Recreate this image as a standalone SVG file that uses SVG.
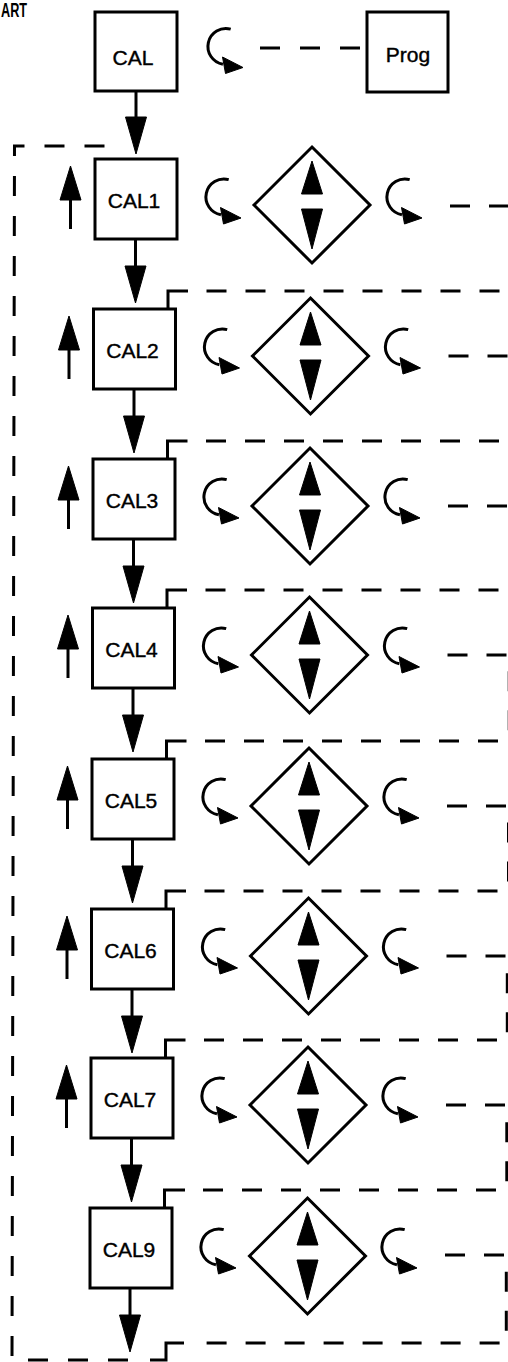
<svg xmlns="http://www.w3.org/2000/svg" xmlns:xlink="http://www.w3.org/1999/xlink" width="508" height="1362" viewBox="0 0 508 1362">
<style>
.box{fill:#fff;stroke:#000;stroke-width:3}
.lbl{font-family:"Liberation Sans",Arial,Helvetica,sans-serif;font-size:21px;fill:#000;stroke:#000;stroke-width:0.4;text-anchor:middle}
.ln{fill:none;stroke:#000;stroke-width:3}
.dash{fill:none;stroke:#000;stroke-width:3;stroke-dasharray:20 19}
.head{fill:#000;stroke:#000;stroke-width:1;stroke-linejoin:round}
</style>
<defs>
<g id="curl">
<path class="ln" d="M 4.7 -17.4 A 18 18 0 1 0 -3.1 17.7"/>
<polygon class="head" points="-3.5,10.5 17,21 -0.5,27"/>
</g>
<g id="diamond">
<polygon points="0,-58 58,0 0,58 -58,0" fill="#fff" stroke="#000" stroke-width="3" stroke-linejoin="miter"/>
<polygon class="head" points="0,-44 10.5,-11 -10.5,-11"/>
<polygon class="head" points="-10.5,4 10.5,4 0,44"/>
</g>
<g id="up">
<line class="ln" x1="0" y1="63" x2="0" y2="30"/>
<polygon class="head" points="0,0 10.5,34 -10.5,34"/>
</g>
<g id="down">
<line class="ln" x1="0" y1="0" x2="0" y2="28"/>
<polygon class="head" points="-10.5,27 10.5,27 0,64"/>
</g>
</defs>
<rect x="0" y="0" width="508" height="1362" fill="#fff"/>
<text x="1" y="17" font-family="Liberation Sans,Arial,sans-serif" font-weight="bold" font-size="20" textLength="26" lengthAdjust="spacingAndGlyphs">ART</text>

<g id="connectors">
<!-- Prog to CAL -->
<path class="dash" d="M 360 48 H 258" style="stroke-dasharray:20 20"/>
<!-- down arrows -->
<use xlink:href="#down" href="#down" transform="translate(136,90)"/>
<use xlink:href="#down" href="#down" transform="translate(135.5,239)"/>
<use xlink:href="#down" href="#down" transform="translate(134,389)"/>
<use xlink:href="#down" href="#down" transform="translate(133.5,539)"/>
<use xlink:href="#down" href="#down" transform="translate(133,688)"/>
<use xlink:href="#down" href="#down" transform="translate(132.5,839)"/>
<use xlink:href="#down" href="#down" transform="translate(132,989)"/>
<use xlink:href="#down" href="#down" transform="translate(131.5,1138)"/>
<use xlink:href="#down" href="#down" transform="translate(130,1288)"/>
<!-- up arrows -->
<use xlink:href="#up" href="#up" transform="translate(70.5,166)"/>
<use xlink:href="#up" href="#up" transform="translate(69,316)"/>
<use xlink:href="#up" href="#up" transform="translate(68.5,466)"/>
<use xlink:href="#up" href="#up" transform="translate(68,615)"/>
<use xlink:href="#up" href="#up" transform="translate(67.5,766)"/>
<use xlink:href="#up" href="#up" transform="translate(67,916)"/>
<use xlink:href="#up" href="#up" transform="translate(66.5,1065)"/>
<!-- row transitions -->
<g id="c1"><path class="dash" d="M 450 206 H 510 V 291"/><path class="dash" d="M 206.5 291 H 510"/><path class="ln" d="M 188 291 H 168 V 309"/></g>
<g id="c2"><path class="dash" d="M 448.5 356 H 510 V 441"/><path class="dash" d="M 206 441 H 510"/><path class="ln" d="M 187.5 441 H 167.5 V 459"/></g>
<g id="c3"><path class="dash" d="M 448 506 H 509.8 V 590"/><path class="dash" d="M 205.5 590 H 509.8"/><path class="ln" d="M 187 590 H 167 V 608"/></g>
<g id="c4"><path class="dash" d="M 447.5 655 H 509.2 V 741"/><path class="dash" d="M 205 741 H 509.2"/><path class="ln" d="M 186.5 741 H 166.5 V 759"/></g>
<g id="c5"><path class="dash" d="M 447 806 H 508.5 V 891"/><path class="dash" d="M 204.5 891 H 508.5"/><path class="ln" d="M 186 891 H 166 V 909"/></g>
<g id="c6"><path class="dash" d="M 446.5 956 H 507.3 V 1040"/><path class="dash" d="M 204 1040 H 507.3"/><path class="ln" d="M 185.5 1040 H 165.5 V 1058"/></g>
<g id="c7"><path class="dash" d="M 446 1105 H 506.8 V 1190"/><path class="dash" d="M 203 1190 H 506.8"/><path class="ln" d="M 185 1190 H 164.5 V 1208"/></g>
<g id="c9"><path class="dash" d="M 445 1255 H 506.3 V 1343 H 203"/><path class="ln" d="M 184 1343 H 166 V 1360 H 150"/><path class="dash" d="M 128 1360 H 12 L 14.5 146 H 118" style="stroke-dasharray:20 20"/></g>
</g>

<g id="nodes">
<g id="cal"><rect class="box" x="95" y="12" width="82" height="79"/><text class="lbl" x="133" y="65">CAL</text></g>
<g id="prog"><rect class="box" x="367" y="12" width="81" height="80"/><text class="lbl" x="408" y="62">Prog</text></g>
<g id="cal-curl"><use xlink:href="#curl" href="#curl" transform="translate(226,46.5)"/></g>

<g id="cal1"><rect class="box" x="95" y="159" width="82" height="80"/><text class="lbl" x="134" y="208">CAL1</text></g>
<g id="adj1"><use xlink:href="#curl" href="#curl" transform="translate(224,197)"/><use xlink:href="#diamond" href="#diamond" transform="translate(312,205)"/><use xlink:href="#curl" href="#curl" transform="translate(405,197)"/></g>

<g id="cal2"><rect class="box" x="93.5" y="309" width="82" height="80"/><text class="lbl" x="132.5" y="358">CAL2</text></g>
<g id="adj2"><use xlink:href="#curl" href="#curl" transform="translate(222.5,347)"/><use xlink:href="#diamond" href="#diamond" transform="translate(310.5,356)"/><use xlink:href="#curl" href="#curl" transform="translate(403.5,347)"/></g>

<g id="cal3"><rect class="box" x="93" y="459" width="82" height="80"/><text class="lbl" x="132" y="508">CAL3</text></g>
<g id="adj3"><use xlink:href="#curl" href="#curl" transform="translate(222,497)"/><use xlink:href="#diamond" href="#diamond" transform="translate(310,506)"/><use xlink:href="#curl" href="#curl" transform="translate(403,497)"/></g>

<g id="cal4"><rect class="box" x="92.5" y="608" width="82" height="80"/><text class="lbl" x="131.5" y="657">CAL4</text></g>
<g id="adj4"><use xlink:href="#curl" href="#curl" transform="translate(221.5,646)"/><use xlink:href="#diamond" href="#diamond" transform="translate(309.5,655)"/><use xlink:href="#curl" href="#curl" transform="translate(402.5,646)"/></g>

<g id="cal5"><rect class="box" x="92" y="759" width="82" height="80"/><text class="lbl" x="131" y="808">CAL5</text></g>
<g id="adj5"><use xlink:href="#curl" href="#curl" transform="translate(221,797)"/><use xlink:href="#diamond" href="#diamond" transform="translate(309,806)"/><use xlink:href="#curl" href="#curl" transform="translate(402,797)"/></g>

<g id="cal6"><rect class="box" x="91.5" y="909" width="82" height="80"/><text class="lbl" x="130.5" y="958">CAL6</text></g>
<g id="adj6"><use xlink:href="#curl" href="#curl" transform="translate(220.5,947)"/><use xlink:href="#diamond" href="#diamond" transform="translate(308.5,956)"/><use xlink:href="#curl" href="#curl" transform="translate(401.5,947)"/></g>

<g id="cal7"><rect class="box" x="91" y="1058" width="82" height="80"/><text class="lbl" x="130" y="1107">CAL7</text></g>
<g id="adj7"><use xlink:href="#curl" href="#curl" transform="translate(220,1096)"/><use xlink:href="#diamond" href="#diamond" transform="translate(308,1105)"/><use xlink:href="#curl" href="#curl" transform="translate(401,1096)"/></g>

<g id="cal9"><rect class="box" x="90" y="1208" width="82" height="80"/><text class="lbl" x="129" y="1257">CAL9</text></g>
<g id="adj9"><use xlink:href="#curl" href="#curl" transform="translate(219,1247)"/><use xlink:href="#diamond" href="#diamond" transform="translate(307.5,1256)"/><use xlink:href="#curl" href="#curl" transform="translate(400,1247)"/></g>
</g>
</svg>
